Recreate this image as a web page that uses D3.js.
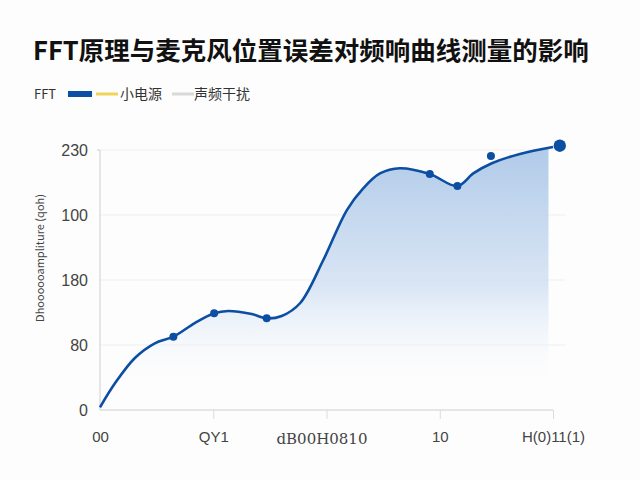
<!DOCTYPE html>
<html>
<head>
<meta charset="utf-8">
<script src="https://cdn.jsdelivr.net/npm/d3@7"></script>
<style>
  body { margin: 0; background: #fdfdfd; }
  svg { display: block; font-family: "Noto Sans CJK SC", "Noto Sans", sans-serif; }
</style>
</head>
<body>
<div id="chart"></div>
<script>
// data (curve samples + marker points)
var xPos = [0, 3.3, 7.7, 12.1, 16.2, 21, 25.2, 28.3, 33.5, 36.8, 40.1, 44.2, 49.3, 54.5, 58.1, 61.8, 66.2, 72.8, 78.9, 82.4, 86.5, 92.7, 100];
var yVal = [2, 20.5, 40, 51.3, 56.4, 67, 74.4, 76.2, 73.8, 70.5, 72.3, 82.3, 115.4, 153.8, 170.5, 182, 186, 181.5, 172.3, 182, 189.8, 197, 202.3];
var markerIdx = [4, 6, 9, 17, 18];
var extraMarkers = [{ x: 86.3, y: 195.4, r: 4 }, { x: 101.5, y: 203.3, r: 6.2 }];
var xTickVals = [0, 25, 50, 75, 100];
var xTickLabels = ["00", "QY1", "", "10", "H(0)11(1)"];
var yTickVals = [0, 50, 100, 150, 200];
var yTickLabels = ["0", "80", "180", "100", "230"];
var legendNames = ["FFT", "小电源", "声频干扰"];
var legendColors = ["#0b4ea2", "#f3d45a", "#d9d9d9"];

var svgWidth = 640;
var svgHeight = 480;
var margin = { top: 150, bottom: 70, left: 100, right: 87 };
var width = svgWidth - margin.left - margin.right;
var height = svgHeight - margin.top - margin.bottom;

var svg = d3.select("#chart")
    .append("svg")
    .attr("width", svgWidth)
    .attr("height", svgHeight);

svg.append("rect").attr("width", svgWidth).attr("height", svgHeight).attr("fill", "#fdfdfd");

// title
svg.append("text")
    .attr("x", 33)
    .attr("y", 60)
    .style("font-size", "25.5px")
    .style("font-weight", "bold")
    .style("fill", "#111")
    .text("FFT原理与麦克风位置误差对频响曲线测量的影响");

// legend
var lg = svg.append("g").attr("transform", "translate(34, 94)");
lg.append("text").attr("x", 0).attr("y", 5).style("font-size", "13px").style("fill", "#333").text(legendNames[0]);
lg.append("rect").attr("x", 34).attr("y", -3).attr("width", 24).attr("height", 6).attr("fill", legendColors[0]);
lg.append("rect").attr("x", 62).attr("y", -1.5).attr("width", 22).attr("height", 3).attr("fill", legendColors[1]);
lg.append("text").attr("x", 86).attr("y", 5).style("font-size", "14px").style("fill", "#333").text(legendNames[1]);
lg.append("rect").attr("x", 138).attr("y", -1.5).attr("width", 22).attr("height", 3).attr("fill", legendColors[2]);
lg.append("text").attr("x", 160).attr("y", 5).style("font-size", "14px").style("fill", "#333").text(legendNames[2]);

var chart = svg.append("g")
    .attr("transform", `translate(${margin.left}, ${margin.top})`);

var x = d3.scaleLinear().domain([0, 100]).range([0, width]);
var y = d3.scaleLinear().domain([0, 200]).range([height, 0]);

// gradient for the area
var defs = svg.append("defs");
var grad = defs.append("linearGradient")
    .attr("id", "fill")
    .attr("gradientUnits", "userSpaceOnUse")
    .attr("x1", 0).attr("x2", 0)
    .attr("y1", 0).attr("y2", height - 15);
grad.append("stop").attr("offset", "0%").attr("stop-color", "#adc8e8").attr("stop-opacity", 0.95);
grad.append("stop").attr("offset", "55%").attr("stop-color", "#cfdff2").attr("stop-opacity", 0.8);
grad.append("stop").attr("offset", "100%").attr("stop-color", "#ffffff").attr("stop-opacity", 0);

// gridlines
chart.selectAll(".grid")
    .data(yTickVals.slice(1))
    .enter()
    .append("line")
    .attr("x1", 0)
    .attr("x2", width + 12)
    .attr("y1", d => y(d))
    .attr("y2", d => y(d))
    .attr("stroke", "#efefef")
    .attr("stroke-width", 1);

var pts = xPos.map((d, i) => ({ x: d, y: yVal[i] }));

var area = d3.area()
    .x(d => x(d.x))
    .y0(height)
    .y1(d => y(d.y))
    .curve(d3.curveCatmullRom.alpha(0.5));
chart.append("path").datum(pts.slice(0, -1).concat([{ x: 99, y: 201.8 }])).attr("d", area).attr("fill", "url(#fill)");

// axes
var BAxis = d3.axisBottom(x)
    .tickValues(xTickVals)
    .tickSize(9)
    .tickPadding(12)
    .tickFormat((d, i) => xTickLabels[i]);
var bx = chart.append("g")
    .attr("transform", `translate(0, ${height})`)
    .call(BAxis);
bx.select(".domain").attr("stroke", "#cfcfcf").attr("d", `M0,0H${width}`);
bx.selectAll(".tick line").attr("stroke", "#dcdcdc");
bx.selectAll(".tick").filter(d => d === 0).select("line").remove();
bx.selectAll("text").style("font-size", "15px").style("fill", "#444").style("font-family", "'Liberation Sans', sans-serif");

var LAxis = d3.axisLeft(y)
    .tickValues(yTickVals)
    .tickSize(0)
    .tickPadding(12)
    .tickFormat((d, i) => yTickLabels[i]);
var ly = chart.append("g").call(LAxis);
ly.select(".domain").attr("stroke", "#cfcfcf").attr("d", `M-3,0H0V${height}`);
ly.selectAll("text").style("font-size", "16px").style("fill", "#444").style("font-family", "'Liberation Sans', sans-serif");

// line
var line = d3.line()
    .x(d => x(d.x))
    .y(d => y(d.y))
    .curve(d3.curveCatmullRom.alpha(0.5));
chart.append("path")
    .datum(pts)
    .attr("d", line)
    .attr("fill", "none")
    .attr("stroke", "#0b4ea2")
    .attr("stroke-width", 2.6);

// markers
chart.selectAll(".dot")
    .data(markerIdx.map(i => pts[i]))
    .enter()
    .append("circle")
    .attr("cx", d => x(d.x))
    .attr("cy", d => y(d.y))
    .attr("r", 4)
    .attr("fill", "#0b4ea2");
chart.selectAll(".dot2")
    .data(extraMarkers)
    .enter()
    .append("circle")
    .attr("cx", d => x(d.x))
    .attr("cy", d => y(d.y))
    .attr("r", d => d.r)
    .attr("fill", "#0b4ea2");

// axis titles
chart.append("text")
    .attr("transform", "rotate(-90)")
    .attr("x", 0 - 108)
    .attr("y", -56)
    .style("font-size", "11px")
    .style("text-anchor", "middle")
    .style("fill", "#444")
    .text("Dhoooooampliture (qoh)");
chart.append("text")
    .attr("transform", `translate(${x(49)}, ${height + 34})`)
    .style("font-size", "15px")
    .style("text-anchor", "middle")
    .style("fill", "#444")
    .style("font-family", "'DejaVu Serif', serif")
    .text("dB00H0810");
</script>
</body>
</html>
